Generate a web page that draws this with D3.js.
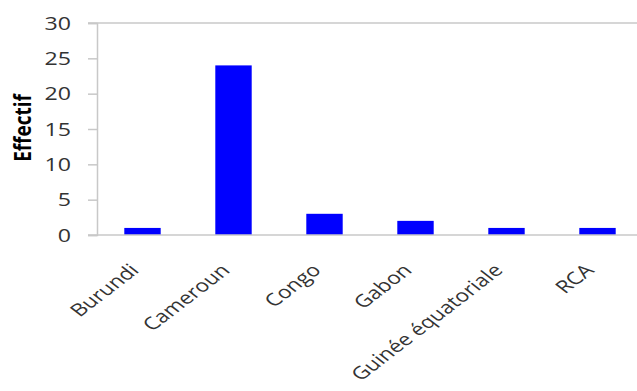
<!DOCTYPE html>
<html lang="fr">
  <head>
    <meta charset="utf-8">
    <script src="https://cdnjs.cloudflare.com/ajax/libs/d3/7.8.5/d3.min.js"></script>
    <title>Effectif par pays</title>
    <style>
      body { margin: 0; background: #fff; }
      text { font-family: "Open Sans", sans-serif; }
    </style>
  </head>
  <body>
    <script>

    var pays = ["Burundi", "Cameroun", "Congo", "Gabon", "Guinée équatoriale", "RCA"];
    var effectifs = [1, 24, 3, 2, 1, 1];
    var yTicks = [0, 5, 10, 15, 20, 25, 30];

    var W = 637, H = 391;
    // the reference looks stretched sideways, so texts get a horizontal scale
    var sx = 1.22, sxLab = 1.3;
    // plot area runs past the right edge of the picture (cropped)
    var plotLeft = 97, plotTop = 23, plotBottom = 235, bandEnd = 643;

    var svg = d3.select("body").append("svg")
        .attr("width", W)
        .attr("height", H);

    var x = d3.scaleBand()
        .domain(pays)
        .range([plotLeft, bandEnd])
        .paddingInner(0.6)
        .paddingOuter(0.3);

    var y = d3.scaleLinear()
        .domain([0, 30])
        .range([plotBottom, plotTop]);

    // top border of plot area
    svg.append("line")
        .attr("x1", 88).attr("x2", W)
        .attr("y1", y(30)).attr("y2", y(30))
        .attr("stroke", "#c8c8c8").attr("stroke-width", 1.5);

    // y axis
    var yAxis = svg.append("g")
        .attr("transform", "translate(" + plotLeft + ",0)")
        .call(d3.axisLeft(y).tickValues(yTicks).tickSize(9));
    yAxis.select(".domain").attr("stroke", "#c8c8c8").attr("stroke-width", 1.5);
    yAxis.selectAll(".tick line").attr("stroke", "#c8c8c8").attr("stroke-width", 1.5);
    yAxis.selectAll(".tick text")
        .attr("x", 0)
        .attr("transform", "translate(-26,0) scale(" + sx + ",1)")
        .style("font-size", "19px")
        .attr("fill", "#333");

    // bars
    svg.selectAll(".bar")
        .data(pays)
        .enter().append("rect")
        .attr("class", "bar")
        .attr("x", function(d) { return x(d); })
        .attr("width", x.bandwidth())
        .attr("y", function(d, i) { return y(effectifs[i]); })
        .attr("height", function(d, i) { return y(0) - y(effectifs[i]); })
        .attr("fill", "#0000ff");

    // x axis
    svg.append("line")
        .attr("x1", 88).attr("x2", W)
        .attr("y1", plotBottom).attr("y2", plotBottom)
        .attr("stroke", "#c8c8c8").attr("stroke-width", 1.5);

    var xAxis = svg.append("g")
        .attr("transform", "translate(0," + plotBottom + ")")
        .call(d3.axisBottom(x).tickSize(0).tickPadding(0));
    xAxis.select(".domain").remove();
    xAxis.selectAll(".tick text")
        .attr("text-anchor", "end")
        .attr("y", 0)
        .attr("dy", "0.35em")
        .attr("transform", "translate(-8,32) scale(" + sxLab + ",1) rotate(-45)")
        .style("font-size", "17.5px")
        .attr("fill", "#333");

    // y label
    svg.append("text")
        .attr("transform", "translate(31,128) scale(" + sx + ",1) rotate(-90)")
        .attr("text-anchor", "middle")
        .style("font-size", "19px")
        .style("font-weight", "bold")
        .attr("fill", "#000")
        .text("Effectif");

    </script>
  </body>
</html>
